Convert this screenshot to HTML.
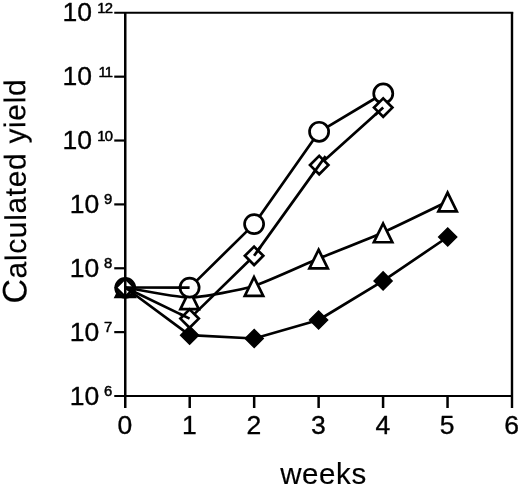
<!DOCTYPE html>
<html><head><meta charset="utf-8"><title>Calculated yield</title>
<style>
html,body{margin:0;padding:0;background:#fff;}
body{width:520px;height:487px;overflow:hidden;}
svg{display:block;}
text{font-family:"Liberation Sans",Arial,sans-serif;fill:#000;stroke:#000;stroke-width:0.35px;stroke-linejoin:round;}
.big{stroke-width:0.15px;}
.ex{stroke-width:0.5px;}
</style></head><body>
<svg width="520" height="487" viewBox="0 0 520 487">
<rect width="520" height="487" fill="#fff"/>

<polygon points="125.25,278.50 134.65,296.90 115.85,296.90" fill="#fff" stroke="#000" stroke-width="2.7" stroke-linejoin="miter"/>
<circle cx="125.25" cy="287.90" r="9.55" fill="#fff" stroke="#000" stroke-width="2.7"/>
<circle cx="125.25" cy="287.90" r="8.8" fill="none" stroke="#000" stroke-width="2.6"/>
<polygon points="125.25,278.40 134.55,287.70 125.25,297.00 115.95,287.70" fill="#fff" stroke="#000" stroke-width="2.5" stroke-linejoin="miter"/>
<polyline points="125.25,287.50 189.60,287.60 254.10,224.10 319.10,131.80 383.25,93.50" fill="none" stroke="#000" stroke-width="2.7" stroke-linejoin="round"/>
<polyline points="125.25,287.50 189.60,318.60 254.10,255.80 319.20,165.10 383.20,107.60" fill="none" stroke="#000" stroke-width="2.7" stroke-linejoin="round"/>
<polyline points="125.25,287.50 189.60,335.20 254.20,338.50 318.60,320.00 383.10,280.90 447.70,237.00" fill="none" stroke="#000" stroke-width="2.7" stroke-linejoin="round"/>
<path d="M125.25,287.50 C131.10,288.42 177.90,297.74 189.60,297.60 C201.30,297.46 242.27,289.55 254.00,286.00 C265.73,282.45 306.86,263.47 318.60,258.60 C330.34,253.73 371.37,237.59 383.10,232.40 C394.83,227.21 441.74,204.31 447.60,201.50" fill="none" stroke="#000" stroke-width="2.7" stroke-linejoin="round"/>
<polygon points="189.60,326.20 198.60,335.20 189.60,344.20 180.60,335.20" fill="#000" stroke="#000" stroke-width="1.5" stroke-linejoin="miter"/>
<polygon points="254.20,329.50 263.20,338.50 254.20,347.50 245.20,338.50" fill="#000" stroke="#000" stroke-width="1.5" stroke-linejoin="miter"/>
<polygon points="318.60,311.00 327.60,320.00 318.60,329.00 309.60,320.00" fill="#000" stroke="#000" stroke-width="1.5" stroke-linejoin="miter"/>
<polygon points="383.10,271.90 392.10,280.90 383.10,289.90 374.10,280.90" fill="#000" stroke="#000" stroke-width="1.5" stroke-linejoin="miter"/>
<polygon points="447.70,228.00 456.70,237.00 447.70,246.00 438.70,237.00" fill="#000" stroke="#000" stroke-width="1.5" stroke-linejoin="miter"/>
<polygon points="189.60,290.30 198.80,309.05 180.40,309.05" fill="#fff" stroke="#000" stroke-width="2.7" stroke-linejoin="miter"/>
<polygon points="254.00,277.10 263.20,295.85 244.80,295.85" fill="#fff" stroke="#000" stroke-width="2.7" stroke-linejoin="miter"/>
<polygon points="318.60,249.70 327.80,268.45 309.40,268.45" fill="#fff" stroke="#000" stroke-width="2.7" stroke-linejoin="miter"/>
<polygon points="383.10,223.50 392.30,242.25 373.90,242.25" fill="#fff" stroke="#000" stroke-width="2.7" stroke-linejoin="miter"/>
<polygon points="447.60,192.60 456.80,211.35 438.40,211.35" fill="#fff" stroke="#000" stroke-width="2.7" stroke-linejoin="miter"/>
<circle cx="189.60" cy="287.60" r="9.55" fill="#fff" stroke="#000" stroke-width="2.7"/>
<circle cx="254.10" cy="224.10" r="9.55" fill="#fff" stroke="#000" stroke-width="2.7"/>
<circle cx="319.10" cy="131.80" r="9.55" fill="#fff" stroke="#000" stroke-width="2.7"/>
<circle cx="383.25" cy="93.50" r="9.55" fill="#fff" stroke="#000" stroke-width="2.7"/>
<polygon points="189.60,309.40 198.80,318.60 189.60,327.80 180.40,318.60" fill="#fff" stroke="#000" stroke-width="2.7" stroke-linejoin="miter"/>
<polygon points="254.10,246.60 263.30,255.80 254.10,265.00 244.90,255.80" fill="#fff" stroke="#000" stroke-width="2.7" stroke-linejoin="miter"/>
<polygon points="319.20,155.90 328.40,165.10 319.20,174.30 310.00,165.10" fill="#fff" stroke="#000" stroke-width="2.7" stroke-linejoin="miter"/>
<polygon points="383.20,98.40 392.40,107.60 383.20,116.80 374.00,107.60" fill="#fff" stroke="#000" stroke-width="2.7" stroke-linejoin="miter"/>
<line x1="178.60" y1="287.58" x2="189.60" y2="287.60" stroke="#000" stroke-width="2.7"/>
<line x1="179.70" y1="313.81" x2="189.60" y2="318.60" stroke="#000" stroke-width="2.7"/>
<line x1="260.51" y1="246.86" x2="254.10" y2="255.80" stroke="#000" stroke-width="2.7"/>
<line x1="312.79" y1="174.04" x2="325.61" y2="156.16" stroke="#000" stroke-width="2.7"/>
<line x1="375.02" y1="114.95" x2="383.20" y2="107.60" stroke="#000" stroke-width="2.7"/>
<g stroke="#000" fill="none">
<line x1="125.25" y1="12.8" x2="125.25" y2="408.0" stroke-width="2.5"/>
<line x1="512.0" y1="11.9" x2="512.0" y2="408.0" stroke-width="2.4"/>
<line x1="114.25" y1="12.8" x2="513.2" y2="12.8" stroke-width="2"/>
<line x1="114.25" y1="396.0" x2="512.0" y2="396.0" stroke-width="2"/>
<line x1="114.25" y1="332.13" x2="125.25" y2="332.13" stroke-width="2.2"/>
<line x1="114.25" y1="268.27" x2="125.25" y2="268.27" stroke-width="2.2"/>
<line x1="114.25" y1="204.40" x2="125.25" y2="204.40" stroke-width="2.2"/>
<line x1="114.25" y1="140.53" x2="125.25" y2="140.53" stroke-width="2.2"/>
<line x1="114.25" y1="76.67" x2="125.25" y2="76.67" stroke-width="2.2"/>
<line x1="189.71" y1="396.0" x2="189.71" y2="408.0" stroke-width="2.5"/>
<line x1="254.17" y1="396.0" x2="254.17" y2="408.0" stroke-width="2.5"/>
<line x1="318.62" y1="396.0" x2="318.62" y2="408.0" stroke-width="2.5"/>
<line x1="383.08" y1="396.0" x2="383.08" y2="408.0" stroke-width="2.5"/>
<line x1="447.54" y1="396.0" x2="447.54" y2="408.0" stroke-width="2.5"/>
</g>
<text x="69.8" y="404.50" font-size="26.5">10</text>
<text x="112.2" y="395.60" class="ex" font-size="14.8" text-anchor="end">6</text>
<text x="69.8" y="340.63" font-size="26.5">10</text>
<text x="112.2" y="331.73" class="ex" font-size="14.8" text-anchor="end">7</text>
<text x="69.8" y="276.77" font-size="26.5">10</text>
<text x="112.2" y="267.87" class="ex" font-size="14.8" text-anchor="end">8</text>
<text x="69.8" y="212.90" font-size="26.5">10</text>
<text x="112.2" y="204.00" class="ex" font-size="14.8" text-anchor="end">9</text>
<text x="62.6" y="149.03" font-size="26.5">10</text>
<text x="112.0" y="140.63" class="ex" font-size="14.8" text-anchor="end" letter-spacing="-0.9">10</text>
<text x="62.6" y="85.17" font-size="26.5">10</text>
<text x="112.0" y="76.77" class="ex" font-size="14.8" text-anchor="end" letter-spacing="-0.9">11</text>
<text x="62.6" y="21.30" font-size="26.5">10</text>
<text x="112.0" y="12.90" class="ex" font-size="14.8" text-anchor="end" letter-spacing="-0.9">12</text>
<text x="124.95" y="433.6" font-size="26.5" text-anchor="middle">0</text>
<text x="189.41" y="433.6" font-size="26.5" text-anchor="middle">1</text>
<text x="253.87" y="433.6" font-size="26.5" text-anchor="middle">2</text>
<text x="318.32" y="433.6" font-size="26.5" text-anchor="middle">3</text>
<text x="382.78" y="433.6" font-size="26.5" text-anchor="middle">4</text>
<text x="447.24" y="433.6" font-size="26.5" text-anchor="middle">5</text>
<text x="511.70" y="433.6" font-size="26.5" text-anchor="middle">6</text>
<text x="323.2" y="483.6" class="big" font-size="29.5" text-anchor="middle" textLength="86" lengthAdjust="spacing">weeks</text>
<text transform="translate(26.4,303.6) rotate(-90.35)" class="big" font-size="30" textLength="224.3" lengthAdjust="spacing"><tspan font-size="34">C</tspan>alculated yield</text>
</svg></body></html>
